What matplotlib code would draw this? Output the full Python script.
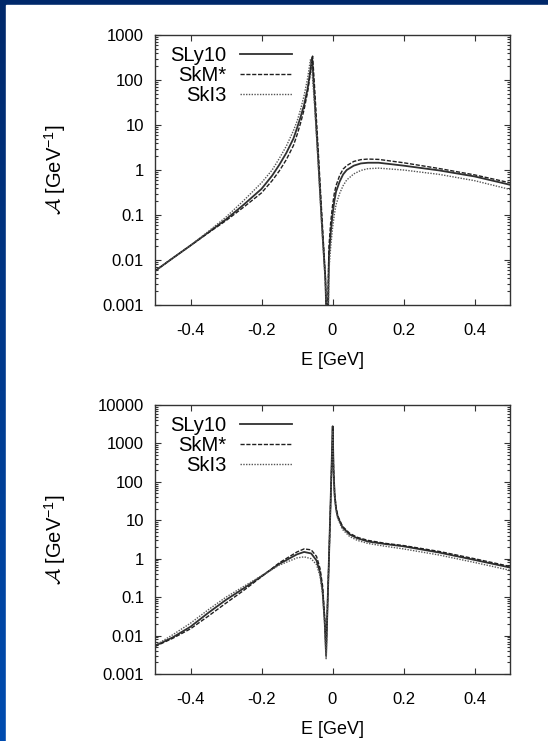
import numpy as np
import matplotlib
matplotlib.use("Agg")
import matplotlib.pyplot as plt
from matplotlib.patches import Rectangle
from matplotlib.ticker import FixedLocator, NullFormatter

plt.rcParams["font.family"] = ["Liberation Sans", "DejaVu Sans"]
plt.rcParams["mathtext.fontset"] = "custom"
plt.rcParams["mathtext.rm"] = "Liberation Sans"
plt.rcParams["mathtext.it"] = "Liberation Sans:italic"
plt.rcParams["mathtext.cal"] = "cmsy10"

# ---- data ----
series_names = ["SLy10", "SkM*", "SkI3"]

# top panel
top_E_sly = [-0.5, -0.45, -0.4, -0.35, -0.3, -0.25, -0.2, -0.17, -0.15, -0.13, -0.11, -0.1, -0.09,
             -0.08, -0.07, -0.063, -0.0575, -0.05, -0.04, -0.03, -0.02, -0.0143, -0.01, -0.005,
             0.0, 0.005, 0.01, 0.02, 0.03, 0.04, 0.06, 0.08, 0.1, 0.13, 0.2, 0.3, 0.4, 0.5]
top_A_sly = [0.0057, 0.011, 0.021, 0.041, 0.08, 0.17, 0.38, 0.75, 1.3, 2.4, 5.0, 8.5, 15,
             28, 65, 150, 320, 33, 1.6, 0.065, 0.0037, 0.0001, 0.012, 0.04,
             0.1, 0.2, 0.33, 0.55, 0.8, 1.0, 1.25, 1.4, 1.45, 1.45, 1.25, 0.98, 0.72, 0.47]

top_E_skm = [-0.5, -0.45, -0.4, -0.35, -0.3, -0.25, -0.2, -0.17, -0.15, -0.13, -0.11, -0.1, -0.09,
             -0.08, -0.07, -0.062, -0.056, -0.05, -0.04, -0.03, -0.02, -0.0155, -0.01, -0.005,
             0.0, 0.005, 0.01, 0.02, 0.03, 0.04, 0.06, 0.08, 0.1, 0.13, 0.2, 0.3, 0.4, 0.5]
top_A_skm = [0.0057, 0.011, 0.021, 0.04, 0.075, 0.15, 0.31, 0.58, 0.95, 1.7, 3.5, 6.0, 11,
             22, 55, 150, 340, 60, 2.5, 0.1, 0.004, 0.0001, 0.02, 0.07,
             0.16, 0.3, 0.45, 0.75, 1.05, 1.25, 1.55, 1.7, 1.75, 1.72, 1.45, 1.08, 0.78, 0.52]

top_E_ski = [-0.5, -0.45, -0.4, -0.35, -0.3, -0.25, -0.2, -0.17, -0.15, -0.13, -0.11, -0.1, -0.09,
             -0.08, -0.07, -0.062, -0.0575, -0.05, -0.04, -0.03, -0.02, -0.0135, -0.01, -0.005,
             0.0, 0.005, 0.01, 0.02, 0.03, 0.04, 0.06, 0.08, 0.1, 0.13, 0.2, 0.3, 0.4, 0.5]
top_A_ski = [0.0057, 0.011, 0.021, 0.043, 0.09, 0.21, 0.52, 1.0, 1.8, 3.4, 7.5, 12, 22,
             45, 110, 290, 150, 25, 1.3, 0.055, 0.003, 0.0001, 0.006, 0.02,
             0.05, 0.1, 0.17, 0.3, 0.45, 0.6, 0.82, 0.98, 1.07, 1.1, 1.0, 0.8, 0.58, 0.37]

# bottom panel
bot_E = [-0.5, -0.45, -0.4, -0.35, -0.3, -0.25, -0.2, -0.15, -0.1, -0.08, -0.06, -0.045, -0.035,
         -0.028, -0.022, -0.018, -0.014, -0.01, -0.005, -0.002, 0.0005, 0.003, 0.006, 0.01,
         0.015, 0.028, 0.048, 0.07, 0.1, 0.15, 0.2, 0.3, 0.4, 0.5]
bot_A_sly = [0.0054, 0.009, 0.017, 0.039, 0.085, 0.17, 0.35, 0.73, 1.3, 1.5, 1.37, 0.9, 0.43,
             0.15, 0.023, 0.003, 0.06, 1.0, 40, 400, 2800, 200, 45, 20,
             12, 6.6, 4.3, 3.4, 2.8, 2.4, 2.1, 1.45, 0.93, 0.59]
bot_A_skm = [0.0052, 0.0085, 0.015, 0.032, 0.07, 0.15, 0.34, 0.78, 1.5, 1.8, 1.7, 1.15, 0.55,
             0.2, 0.03, 0.004, 0.07, 1.0, 35, 350, 2500, 220, 50, 22,
             13, 7.0, 4.6, 3.6, 3.0, 2.5, 2.2, 1.55, 1.0, 0.63]
bot_A_ski = [0.0055, 0.0105, 0.021, 0.047, 0.1, 0.19, 0.36, 0.68, 1.05, 1.12, 1.0, 0.7, 0.35,
             0.12, 0.02, 0.0025, 0.05, 0.9, 35, 350, 2200, 180, 40, 18,
             11, 5.8, 3.8, 3.0, 2.5, 2.1, 1.8, 1.25, 0.8, 0.5]

x_ticks = [-0.4, -0.2, 0, 0.2, 0.4]
x_ticklabels = ["-0.4", "-0.2", "0", "0.2", "0.4"]
top_yticks = [0.001, 0.01, 0.1, 1, 10, 100, 1000]
top_yticklabels = ["0.001", "0.01", "0.1", "1", "10", "100", "1000"]
bot_yticks = [0.001, 0.01, 0.1, 1, 10, 100, 1000, 10000]
bot_yticklabels = ["0.001", "0.01", "0.1", "1", "10", "100", "1000", "10000"]

styles = [
    dict(color="#303030", lw=1.3, ls="-"),
    dict(color="#202020", lw=1.0, ls=(0, (3.0, 1.2))),
    dict(color="#555555", lw=1.0, ls=(0, (1.0, 1.0))),
]

fig = plt.figure(figsize=(5.48, 7.41), dpi=100)

# blue slide background with white panel
bg = fig.add_axes([0, 0, 1, 1], zorder=-10)
grad = np.linspace(0, 1, 256).reshape(-1, 1)
cmap = matplotlib.colors.LinearSegmentedColormap.from_list("slide", ["#00286a", "#004cb0"])
bg.imshow(grad, aspect="auto", cmap=cmap, extent=[0, 1, 0, 1], origin="upper")
bg.add_patch(Rectangle((6 / 548, 0), 1, 1 - 5 / 741, color="white", transform=bg.transAxes))
bg.set_xlim(0, 1)
bg.set_ylim(0, 1)
bg.axis("off")


def style_axes(ax, yticks, yticklabels):
    ax.set_yscale("log")
    ax.set_xlim(-0.5, 0.5)
    ax.set_ylim(yticks[0], yticks[-1])
    ax.set_xticks(x_ticks)
    ax.set_xticklabels(x_ticklabels)
    ax.set_yticks(yticks)
    ax.set_yticklabels(yticklabels)
    minors = [m * t for t in yticks[:-1] for m in range(2, 10)]
    ax.yaxis.set_minor_locator(FixedLocator(minors))
    ax.yaxis.set_minor_formatter(NullFormatter())
    ax.tick_params(which="both", direction="in", top=True, right=True,
                   colors="#333333", labelcolor="black", labelsize=12, width=0.8)
    ax.tick_params(which="major", length=4)
    ax.tick_params(which="minor", length=2)
    ax.tick_params(axis="y", pad=8)
    ax.tick_params(axis="x", pad=13)
    for s in ax.spines.values():
        s.set_color("#333333")
        s.set_linewidth(1.0)
    ax.set_xlabel("E [GeV]", fontsize=13, labelpad=10)
    ax.set_ylabel(r"$\mathcal{A}$ [GeV$^{-1}$]", fontsize=14.5)
    ax.yaxis.set_label_coords(-0.245, 0.5)
    ax.legend(loc="upper right", bbox_to_anchor=(0.386, 0.96), frameon=False,
              markerfirst=False, fontsize=14.5, handlelength=2.6, handletextpad=0.65,
              labelspacing=0.05, borderaxespad=0, borderpad=0)


ax1 = fig.add_axes([155 / 548, 1 - 305 / 741, 355 / 548, 270 / 741])
for E, A, name, st in zip([top_E_sly, top_E_skm, top_E_ski],
                          [top_A_sly, top_A_skm, top_A_ski], series_names, styles):
    ax1.plot(E, A, label=name, **st)
style_axes(ax1, top_yticks, top_yticklabels)

ax2 = fig.add_axes([155 / 548, 1 - 674 / 741, 355 / 548, 269 / 741])
for A, name, st in zip([bot_A_sly, bot_A_skm, bot_A_ski], series_names, styles):
    ax2.plot(bot_E, A, label=name, **st)
style_axes(ax2, bot_yticks, bot_yticklabels)

fig.savefig("out.png", dpi=100)
